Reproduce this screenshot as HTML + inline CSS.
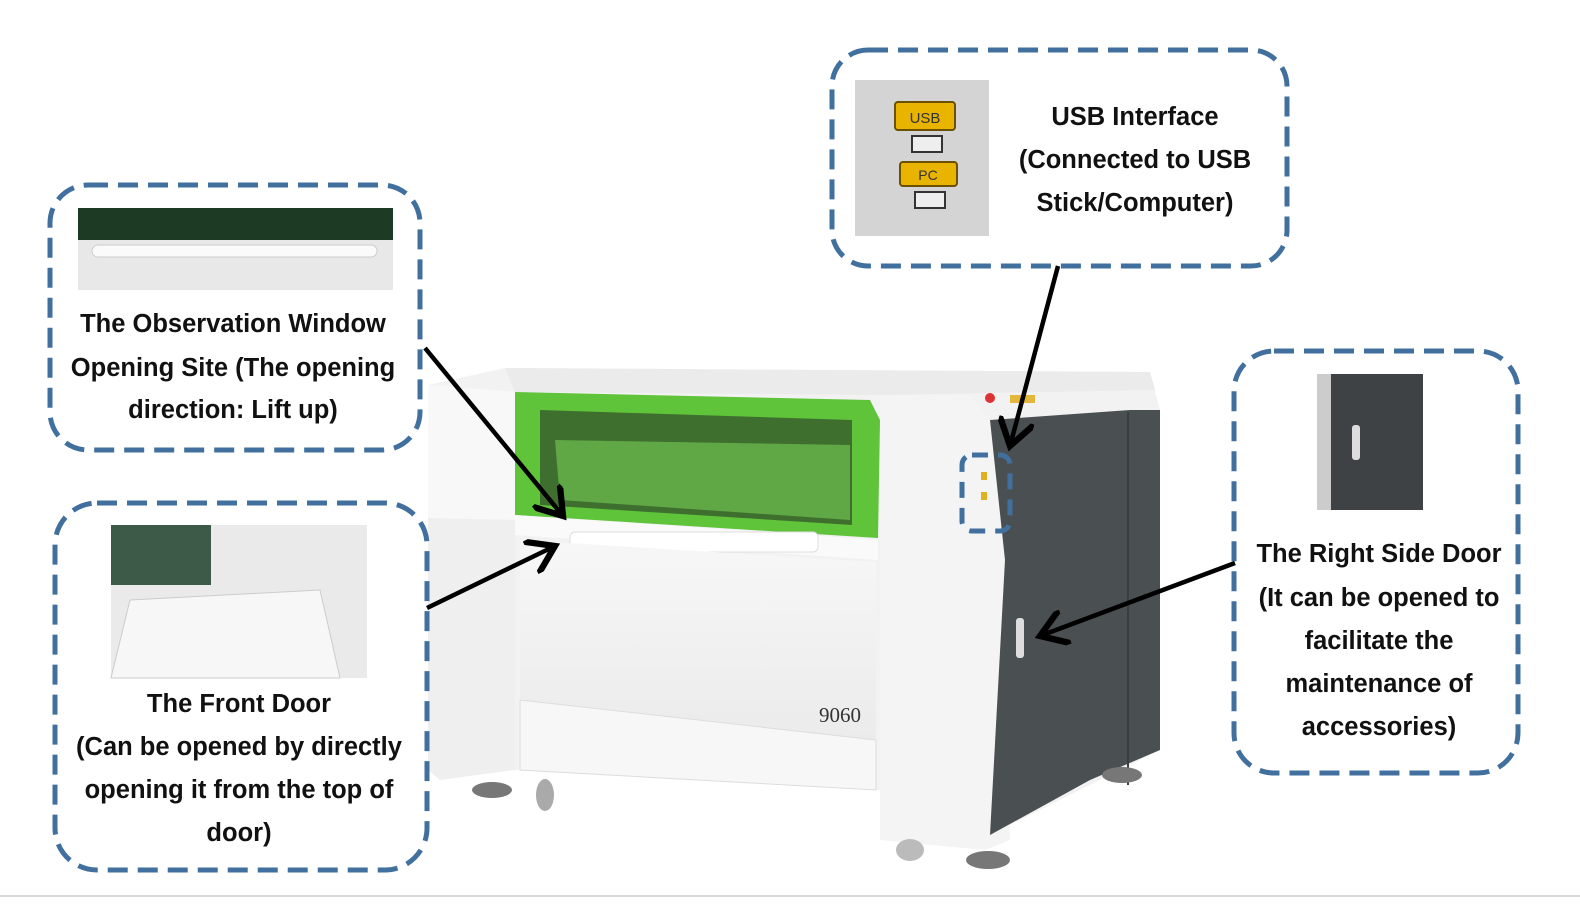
<!DOCTYPE html>
<html><head><meta charset="utf-8"><style>
html,body{margin:0;padding:0;background:#fff}
svg{display:block}
text{font-family:"Liberation Sans",sans-serif;font-weight:bold;font-size:25.5px;fill:#111;text-anchor:middle}
</style></head><body>
<svg width="1580" height="905" viewBox="0 0 1580 905" xmlns="http://www.w3.org/2000/svg">
<defs>
<linearGradient id="g1" x1="0" y1="0" x2="0" y2="1"><stop offset="0" stop-color="#f7f7f7"/><stop offset="1" stop-color="#ebebeb"/></linearGradient>
<marker id="ah" markerWidth="8" markerHeight="8" refX="6" refY="4" orient="auto" markerUnits="strokeWidth"><path d="M0,0 L6,4 L0,8" fill="none" stroke="#000" stroke-width="1.4"/></marker>
</defs>
<!-- machine -->
<polygon points="428,385 505,368 1150,372 1160,410 1160,750 990,835 880,835 880,790 560,770 500,770 440,780 428,760" fill="#f2f2f2"/>
<polygon points="428,385 515,392 515,520 428,518" fill="#f8f8f8"/>
<polygon points="428,518 515,520 515,770 440,780 428,770" fill="#efefef"/>
<polygon points="505,368 1150,372 1155,390 880,395 515,392" fill="#ebebeb"/>
<polygon points="880,395 970,395 990,420 1000,450 1005,560 1010,840 985,850 880,840" fill="#f4f4f4"/>
<polygon points="990,420 1130,410 1160,410 1160,750 1090,780 990,835 1005,560" fill="#4a4f52"/>
<line x1="1128" y1="412" x2="1128" y2="785" stroke="#3a3e40" stroke-width="2"/>
<polygon points="515,392 870,400 880,420 878,538 515,515" fill="#5fc43a"/>
<polygon points="540,410 852,420 852,525 540,505" fill="#3e6f2e"/>
<polygon points="555,440 850,445 850,520 560,500" fill="#6fbf50" opacity=".7"/>
<polygon points="515,515 878,540 878,560 515,535" fill="#fafafa"/>
<rect x="570" y="532" width="248" height="20" rx="5" fill="#fff" stroke="#ddd"/>
<polygon points="520,540 876,562 876,740 520,700" fill="url(#g1)"/>
<polygon points="520,700 876,740 876,790 520,770" fill="#f7f7f7" stroke="#ddd"/>
<text x="840" y="722" style="font-family:'Liberation Serif',serif;font-size:21px;fill:#333;font-weight:normal">9060</text>
<rect x="1016" y="618" width="8" height="40" rx="3" fill="#ddd"/>
<ellipse cx="492" cy="790" rx="20" ry="8" fill="#777"/>
<ellipse cx="545" cy="795" rx="9" ry="16" fill="#aaa"/>
<ellipse cx="910" cy="850" rx="14" ry="11" fill="#bbb"/>
<ellipse cx="988" cy="860" rx="22" ry="9" fill="#777"/>
<ellipse cx="1122" cy="775" rx="20" ry="8" fill="#777"/>
<circle cx="990" cy="398" r="5" fill="#d33"/><rect x="1010" y="395" width="25" height="8" fill="#e4b63a"/>
<rect x="962" y="455" width="48" height="76" rx="10" fill="none" stroke="#41709f" stroke-width="5" stroke-dasharray="16,10"/>
<rect x="981" y="472" width="6" height="8" fill="#e0b020"/><rect x="981" y="492" width="6" height="8" fill="#e0b020"/>
<!-- boxes -->
<g fill="none" stroke="#41709f" stroke-width="5" stroke-dasharray="20,10">
<rect x="50" y="185" width="370" height="265" rx="38"/>
<rect x="55" y="503" width="372" height="367" rx="42"/>
<rect x="832" y="50" width="455" height="216" rx="36"/>
<rect x="1234" y="351" width="284" height="422" rx="40"/>
</g>
<!-- thumbnails -->
<rect x="78" y="208" width="315" height="82" fill="#e8e8e8"/>
<rect x="78" y="208" width="315" height="32" fill="#1c3a24"/>
<rect x="92" y="245" width="285" height="12" rx="6" fill="#fafafa" stroke="#ccc"/>
<rect x="111" y="525" width="256" height="153" fill="#eaeaea"/>
<rect x="111" y="525" width="100" height="60" fill="#3d5a48"/>
<polygon points="130,600 320,590 340,678 111,678" fill="#f7f7f7" stroke="#ccc"/>
<rect x="855" y="80" width="134" height="156" fill="#d4d4d4"/>
<rect x="895" y="102" width="60" height="28" rx="3" fill="#e8b400" stroke="#6a5000" stroke-width="2"/>
<text x="925" y="123" style="font-size:15px;font-weight:normal;fill:#333">USB</text>
<rect x="912" y="136" width="30" height="16" fill="#eee" stroke="#333" stroke-width="2"/>
<rect x="900" y="162" width="57" height="24" rx="3" fill="#e8b400" stroke="#6a5000" stroke-width="2"/>
<text x="928" y="180" style="font-size:14px;font-weight:normal;fill:#333">PC</text>
<rect x="915" y="192" width="30" height="16" fill="#eee" stroke="#333" stroke-width="2"/>
<rect x="1317" y="374" width="106" height="136" fill="#3e4244"/>
<rect x="1317" y="374" width="14" height="136" fill="#ccc"/>
<rect x="1352" y="425" width="8" height="35" rx="3" fill="#ddd"/>
<!-- arrows -->
<g stroke="#000" stroke-width="4.5" fill="none" marker-end="url(#ah)">
<line x1="425" y1="348" x2="563" y2="516"/>
<line x1="427" y1="608" x2="555" y2="546"/>
<line x1="1058" y1="266" x2="1010" y2="446"/>
<line x1="1235" y1="563" x2="1040" y2="636"/>
</g>
<!-- labels -->
<text x="233" y="332">The Observation Window</text>
<text x="233" y="376">Opening Site (The opening</text>
<text x="233" y="418">direction: Lift up)</text>
<text x="239" y="712">The Front Door</text>
<text x="239" y="755">(Can be opened by directly</text>
<text x="239" y="798">opening it from the top of</text>
<text x="239" y="841">door)</text>
<text x="1135" y="125">USB Interface</text>
<text x="1135" y="168">(Connected to USB</text>
<text x="1135" y="211">Stick/Computer)</text>
<text x="1379" y="562">The Right Side Door</text>
<text x="1379" y="606">(It can be opened to</text>
<text x="1379" y="649">facilitate the</text>
<text x="1379" y="692">maintenance of</text>
<text x="1379" y="735">accessories)</text>
<line x1="0" y1="896" x2="1580" y2="896" stroke="#ccc" stroke-width="1.5"/>
</svg>
</body></html>
